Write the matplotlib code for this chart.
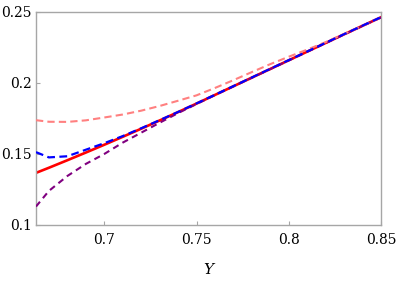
import matplotlib
matplotlib.use("Agg")
import matplotlib.pyplot as plt

# values
y_vals = [0.663, 0.67, 0.68, 0.69, 0.70, 0.71, 0.72, 0.73, 0.74, 0.75,
          0.76, 0.77, 0.78, 0.79, 0.80, 0.81, 0.82, 0.83, 0.84, 0.85]
red_solid = [0.1367, 0.1403, 0.1456, 0.1510, 0.1565, 0.1621, 0.1678, 0.1736, 0.1795, 0.1855,
             0.1916, 0.1977, 0.2038, 0.2099, 0.2160, 0.2221, 0.2282, 0.2343, 0.2403, 0.2463]
pink_dashed = [0.1738, 0.1727, 0.1726, 0.1737, 0.1757, 0.1778, 0.1805, 0.1838, 0.1875, 0.1913,
               0.1965, 0.2020, 0.2077, 0.2133, 0.2185, 0.2235, 0.2288, 0.2346, 0.2404, 0.2464]
blue_dashed = [0.1513, 0.1476, 0.1484, 0.1530, 0.1576, 0.1626, 0.1681, 0.1738, 0.1796, 0.1856,
               0.1917, 0.1978, 0.2039, 0.2100, 0.2161, 0.2222, 0.2283, 0.2344, 0.2404, 0.2464]
purple_dashed = [0.1130, 0.1240, 0.1345, 0.1430, 0.1500, 0.1580, 0.1650, 0.1720, 0.1788, 0.1852,
                 0.1915, 0.1976, 0.2037, 0.2098, 0.2159, 0.2220, 0.2281, 0.2342, 0.2402, 0.2462]

x_ticks = [0.7, 0.75, 0.8, 0.85]
y_ticks = [0.1, 0.15, 0.2, 0.25]

plt.rcParams['font.family'] = ['DejaVu Serif']

fig = plt.figure(figsize=(3.99, 2.83), dpi=100)
ax = fig.add_axes([0.0902, 0.205, 0.8648, 0.7526])

ax.plot(y_vals, red_solid, color='#ff0000', lw=1.9, zorder=2)
ax.plot(y_vals, purple_dashed, color='#800080', lw=1.5, dashes=(3, 2.2), zorder=3)
ax.plot(y_vals, pink_dashed, color='#ff8080', lw=1.5, dashes=(3.5, 2), zorder=4)
ax.plot(y_vals, blue_dashed, color='#0000ff', lw=1.6, dashes=(3.5, 2), zorder=5)

ax.set_xlim(0.663, 0.85)
ax.set_ylim(0.1, 0.25)
ax.set_xticks(x_ticks)
ax.set_xticklabels([f"{t:g}" for t in x_ticks])
ax.set_yticks(y_ticks)
ax.set_yticklabels([f"{t:g}" for t in y_ticks])

for s in ax.spines.values():
    s.set_color('#a6a6a6')
    s.set_linewidth(1.0)
ax.tick_params(direction='in', length=3, width=0.8, color='#a6a6a6',
               labelsize=10, labelcolor='black', pad=3)
ax.tick_params(axis='x', pad=6)

ax.set_xlabel('Y', fontsize=11, style='italic', labelpad=11)

fig.savefig('out.png', dpi=100)
